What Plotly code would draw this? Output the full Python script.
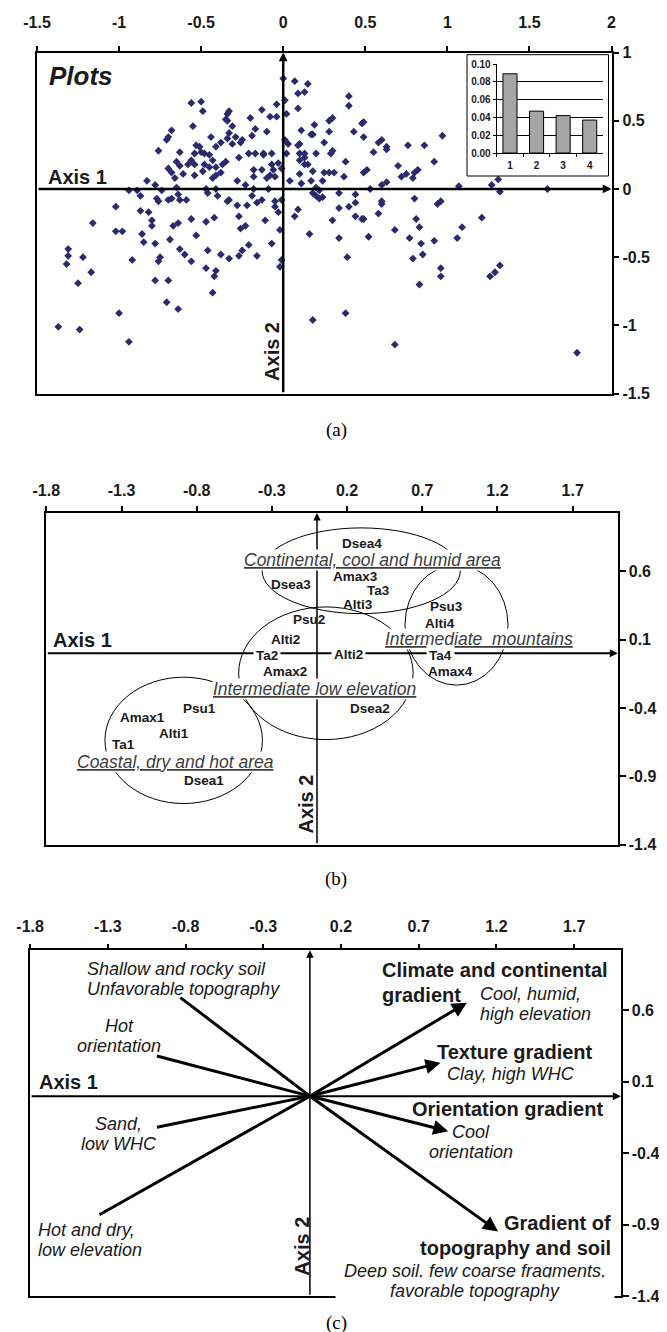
import plotly.graph_objects as go

W, H = 667, 1332
SANS = "Liberation Sans, Arial, Helvetica, sans-serif"
SERIF = "Liberation Serif, Times New Roman, serif"
INK = "#1a1a1a"

# ---- (a) plot scores on axes 1 and 2 ----
plot_x = [
    0.00, 0.07, 0.15, 0.09, 0.13, 0.01, -0.56, -0.50, -0.49, 0.40,
    0.40, -0.04, -0.13, -0.33, -0.34, 0.02, 0.09, -0.08, -0.04, -0.20,
    -0.35, -0.34, 0.30, 0.28, 0.49, 0.48, -0.55, -0.31, 0.19, 0.11,
    0.18, 0.28, 0.43, -0.17, -0.10, -0.68, -0.70, -0.71, -0.44, -0.33,
    -0.34, -0.29, -0.26, -0.25, -0.19, -0.31, -0.38, -0.76, 0.97, 0.49,
    0.60, 0.58, 0.25, 0.01, 0.03, 0.10, 0.17, -0.63, -0.53, -0.51,
    -0.50, -0.48, -0.41, -0.54, -0.45, -0.43, -0.48, -0.56, -0.21, -0.17,
    -0.12, -0.12, -0.27, -0.07, 0.02, 0.09, 0.10, 0.13, 0.20, 0.29,
    0.30, 0.38, 0.55, 0.63, 0.63, 0.76, 0.86, -0.65, -0.63, -0.58,
    -0.54, -0.45, -0.41, -0.37, -0.35, -0.49, -0.18, -0.13, -0.07, -0.03,
    -0.06, -0.01, 0.10, 0.13, 0.15, 0.18, 0.13, 0.92, 0.70, 0.75,
    0.80, 0.82, 0.72, 0.79, -0.70, -0.68, -0.61, -0.54, -0.66, -0.43,
    -0.41, -0.38, -0.08, -0.18, -0.10, -0.05, 0.10, 0.17, 0.25, 0.28,
    0.31, 0.51, 0.49, -0.83, -0.78, -0.65, -0.74, -0.28, -0.23, 0.04,
    0.11, 0.24, 0.37, 0.60, 0.63, 1.07, 1.27, 1.31, 1.32, -0.94,
    -0.89, -0.87, -0.47, -0.41, -0.18, -0.09, 0.20, 0.22, 0.18, 0.53,
    1.61, -1.02, -0.77, -0.76, -0.70, -0.68, -0.63, -0.59, -0.46, -0.33,
    -0.19, -0.13, -0.05, 0.20, 0.24, 0.44, 0.60, 0.80, 0.94, 0.96,
    -0.64, -0.40, -0.34, -0.28, -0.22, -0.16, -0.05, -0.03, -0.01, 0.22,
    0.34, -0.87, -0.82, -0.80, -0.80, -1.16, -1.02, -0.98, -0.86, -0.85,
    -0.78, -0.69, -0.67, -0.64, -0.56, -0.47, -0.42, -0.53, -0.27, -0.26,
    -0.23, -0.21, -0.11, -0.07, -0.02, 0.09, 0.07, 0.16, 0.30, 0.34,
    0.40, 0.44, 0.44, 0.48, 0.49, 0.58, 0.60, 0.68, 0.52, 0.34,
    0.77, 0.81, 0.83, 0.84, 0.92, 1.06, 1.09, 1.21, -1.31, -1.31,
    -1.32, -1.22, -1.17, -1.25, -0.92, -0.75, -0.76, -0.63, -0.60, -0.56,
    -0.46, -0.38, -0.33, -0.27, -0.25, -0.16, -0.78, -0.70, -0.47, -0.42,
    -0.41, -0.02, -0.01, 0.39, 0.79, 0.85, 0.96, 0.96, 1.26, 1.29,
    1.32, 0.83, -1.37, -1.24, -1.00, -0.94, -0.71, -0.64, -0.43, 0.18,
    0.38, 0.68, 1.79,
]
plot_y = [
    0.81, 0.79, 0.77, 0.70, 0.71, 0.65, 0.63, 0.64, 0.57, 0.68,
    0.61, 0.62, 0.58, 0.57, 0.55, 0.55, 0.59, 0.53, 0.53, 0.52,
    0.51, 0.50, 0.52, 0.50, 0.49, 0.48, 0.46, 0.46, 0.47, 0.43,
    0.40, 0.42, 0.42, 0.44, 0.42, 0.43, 0.38, 0.36, 0.38, 0.41,
    0.37, 0.38, 0.34, 0.36, 0.39, 0.33, 0.34, 0.28, 0.39, 0.38,
    0.36, 0.34, 0.34, 0.36, 0.33, 0.33, 0.40, 0.27, 0.32, 0.31,
    0.27, 0.26, 0.31, 0.26, 0.25, 0.21, 0.18, 0.21, 0.26, 0.26,
    0.26, 0.25, 0.23, 0.26, 0.26, 0.32, 0.26, 0.26, 0.26, 0.26,
    0.28, 0.20, 0.27, 0.29, 0.31, 0.32, 0.32, 0.20, 0.17, 0.18,
    0.18, 0.16, 0.16, 0.18, 0.20, 0.13, 0.14, 0.14, 0.18, 0.19,
    0.14, 0.15, 0.21, 0.23, 0.18, 0.13, 0.18, 0.20, 0.17, 0.11,
    0.12, 0.14, 0.09, 0.08, 0.15, 0.12, 0.11, 0.10, 0.08, 0.08,
    0.10, 0.12, 0.10, 0.09, 0.08, 0.09, 0.11, 0.06, 0.12, 0.12,
    0.12, 0.14, 0.12, 0.06, 0.03, 0.01, -0.01, 0.06, 0.03, 0.06,
    0.04, 0.06, 0.09, 0.03, 0.05, 0.02, 0.03, 0.07, -0.02, -0.01,
    -0.01, -0.05, 0.00, 0.00, 0.00, 0.00, 0.01, -0.01, -0.03, 0.00,
    0.00, -0.13, -0.07, -0.09, -0.08, -0.07, -0.08, -0.08, -0.03, -0.08,
    -0.05, -0.08, -0.09, -0.05, -0.06, -0.04, -0.09, -0.07, -0.11, -0.09,
    -0.04, -0.05, -0.09, -0.12, -0.12, -0.10, -0.13, -0.17, -0.08, -0.07,
    -0.03, -0.16, -0.17, -0.23, -0.27, -0.25, -0.31, -0.31, -0.33, -0.39,
    -0.40, -0.37, -0.27, -0.25, -0.22, -0.24, -0.21, -0.34, -0.20, -0.29,
    -0.27, -0.41, -0.23, -0.40, -0.30, -0.15, -0.20, -0.33, -0.23, -0.14,
    -0.13, -0.10, -0.20, -0.22, -0.22, -0.18, -0.11, -0.30, -0.35, -0.36,
    -0.36, -0.22, -0.28, -0.40, -0.38, -0.36, -0.28, -0.21, -0.44, -0.49,
    -0.55, -0.50, -0.61, -0.69, -0.52, -0.50, -0.53, -0.44, -0.48, -0.53,
    -0.45, -0.48, -0.51, -0.49, -0.45, -0.49, -0.67, -0.67, -0.58, -0.64,
    -0.60, -0.57, -0.52, -0.50, -0.51, -0.48, -0.58, -0.64, -0.64, -0.61,
    -0.56, -0.70, -1.01, -1.03, -0.91, -1.12, -0.83, -0.88, -0.76, -0.96,
    -0.91, -1.14, -1.20,
]

# inset: eigenvalues of the first four axes
eig_axis = ["1", "2", "3", "4"]
eig_val = [0.089, 0.047, 0.042, 0.037]
eig_ticks = [0, 0.02, 0.04, 0.06, 0.08, 0.10]

a_xticks = [-1.5, -1, -0.5, 0, 0.5, 1, 1.5, 2]
a_yticks = [-1.5, -1, -0.5, 0, 0.5, 1]
bc_xticks = [-1.8, -1.3, -0.8, -0.3, 0.2, 0.7, 1.2, 1.7]
bc_yticks = [-1.4, -0.9, -0.4, 0.1, 0.6]

# ---- (b) modalities of the variables ----
mod_name = ["Dsea4", "Amax3", "Dsea3", "Ta3", "Alti3", "Psu3", "Psu2", "Alti4",
            "Alti2", "Ta2", "Alti2", "Ta4", "Amax2", "Amax4", "Psu1", "Dsea2",
            "Amax1", "Alti1", "Ta1", "Dsea1"]
mod_x = [0.30, 0.255, -0.17, 0.41, 0.27, 0.86, -0.05, 0.82,
         -0.21, -0.33, 0.21, 0.82, -0.21, 0.89, -0.78, 0.35,
         -1.16, -0.95, -1.29, -0.75]
mod_y = [0.805, 0.558, 0.50, 0.46, 0.36, 0.34, 0.246, 0.22,
         0.10, -0.014, -0.01, -0.018, -0.13, -0.13, -0.407, -0.407,
         -0.47, -0.587, -0.667, -0.928]

zone_name = ["Continental, cool and humid area", "Intermediate  mountains",
             "Intermediate low elevation", "Coastal, dry and hot area"]
zone_x = [0.37, 1.08, -0.02, -0.94]
zone_y = [0.683, 0.105, -0.258, -0.796]

# ellipses around the groups
ell_x0 = [-0.365, 0.585, -0.521, -1.41]
ell_x1 = [0.953, 1.27, 0.639, -0.363]
ell_y0 = [0.29, -0.233, -0.631, -1.099]
ell_y1 = [0.917, 0.645, 0.339, -0.175]

# ---- (c) gradients ----
arrow_x = [1.01, 0.84, 0.89, 1.21]
arrow_y = [0.654, 0.234, -0.245, -0.946]
line_x = [-0.833, -0.984, -0.984, -1.354]
line_y = [0.689, 0.281, -0.217, -0.83]

c_text = ["Shallow and rocky soil<br>Unfavorable topography", "Hot<br>orientation",
          "Sand,<br>low WHC", "Hot and dry,<br>low elevation",
          "Climate and continental<br>gradient", "Cool, humid,<br>high elevation",
          "Texture gradient", "Clay, high WHC", "Orientation gradient",
          "Cool<br>orientation", "Gradient of<br>topography and soil",
          "Deep soil, few coarse fragments,<br>favorable topography"]
c_x = [-1.45, -1.225, -1.23, -1.764, 0.449, 1.084, 1.32, 1.292, 1.273, 1.038, 1.947, 1.065]
c_y = [0.817, 0.42, -0.262, -1.003, 0.794, 0.647, 0.309, 0.157, -0.093, -0.323, -0.978, -1.293]
c_anchor = ["left", "center", "center", "left", "left", "left", "center", "center",
            "center", "center", "right", "center"]
c_bold = [False, False, False, False, True, False, True, False, True, False, True, False]

A_X, A_Y = [-1.5, 2.0], [-1.5, 1.0]
B_X, B_Y = [-1.8, 2.0], [-1.4, 1.026]
C_X, C_Y = [-1.8, 2.0], [-1.4, 1.02]


def xdom(left, right):
    return [left / W, right / W]


def ydom(top, bottom):
    return [1 - bottom / H, 1 - top / H]


TICKFONT = dict(family=SANS, size=16, color=INK, weight="bold")


def frame(dx, dy, xr, yr, xt, yt, xid, yid, stand):
    common = dict(showline=True, mirror=True, linecolor="black", linewidth=1.5,
                  ticks="outside", tickwidth=1.5, tickcolor="black",
                  tickfont=TICKFONT, showgrid=False, zeroline=False)
    xa = dict(domain=dx, range=xr, anchor=yid, side="top", ticklen=5,
              tickvals=xt, ticktext=[f"{v:g}" for v in xt],
              ticklabelstandoff=stand, **common)
    ya = dict(domain=dy, range=yr, anchor=xid, side="right", ticklen=6,
              tickvals=yt, ticktext=[f"{v:g}" for v in yt], **common)
    return xa, ya


def arrow(sub, x, y, x0, y0, width, size, head=2):
    xr, yr = "x" + sub, "y" + sub
    return dict(xref=xr, yref=yr, axref=xr, ayref=yr, x=x, y=y, ax=x0, ay=y0,
                text="", showarrow=True, arrowhead=head, arrowsize=size,
                arrowwidth=width, arrowcolor="black", standoff=0)


def label(sub, x, y, text, size, bold=False, italic=False, anchor="center",
          angle=0, color=INK, bg=None, pad=2):
    d = dict(xref="x" + sub, yref="y" + sub, x=x, y=y, text=text, showarrow=False,
             xanchor=anchor, yanchor="middle", align=anchor, textangle=angle,
             font=dict(family=SANS, size=size, color=color,
                       weight="bold" if bold else "normal",
                       style="italic" if italic else "normal"))
    if bg:
        d.update(bgcolor=bg, borderpad=pad)
    return d


fig = go.Figure()

fig.add_trace(go.Scatter(x=plot_x, y=plot_y, mode="markers", xaxis="x", yaxis="y",
                         marker=dict(symbol="diamond", size=6, color="#2b2a6e"),
                         hoverinfo="skip"))

fig.add_trace(go.Bar(x=eig_axis, y=eig_val, xaxis="x4", yaxis="y4", width=0.53,
                     marker=dict(color="#a5a5a5", line=dict(color="black", width=1))))

seg_x, seg_y = [], []
for lx, ly in zip(line_x, line_y):
    seg_x += [0, lx, None]
    seg_y += [0, ly, None]
fig.add_trace(go.Scatter(x=seg_x, y=seg_y, mode="lines", xaxis="x3", yaxis="y3",
                         line=dict(color="black", width=3), hoverinfo="skip"))

xa1, ya1 = frame(xdom(29, 603.5), ydom(44.5, 385.7), A_X, A_Y, a_xticks, a_yticks, "x", "y", 11)
xa2, ya2 = frame(xdom(38.3, 609.8), ydom(505, 836.7), B_X, B_Y, bc_xticks, bc_yticks, "x2", "y2", 4)
xa3, ya3 = frame(xdom(22.1, 612.8), ydom(942.3, 1288.3), C_X, C_Y, bc_xticks, bc_yticks, "x3", "y3", 5)

small = dict(family=SANS, size=10, color=INK, weight="bold")
xa4 = dict(domain=xdom(488.7, 595), anchor="y4", type="category", range=[-0.5, 3.5],
           tickson="boundaries", ticks="outside", ticklen=3, tickcolor="black",
           showline=True, linecolor="black", linewidth=1, tickfont=small,
           ticklabelstandoff=3, showgrid=False, zeroline=False)
ya4 = dict(domain=ydom(56, 145), anchor="x4", range=[0, 0.1], tickvals=eig_ticks,
           ticktext=[f"{v:.2f}" for v in eig_ticks], ticks="outside", ticklen=3,
           tickcolor="black", showline=True, linecolor="black", linewidth=1,
           showgrid=True, gridcolor="black", gridwidth=1, tickfont=small, zeroline=False)

ann = []
# panel (a)
ann.append(arrow("", A_X[1], 0, A_X[0], 0, 2.5, 0.7))
ann.append(arrow("", 0, A_Y[1], 0, A_Y[0], 2.5, 0.7))
ann.append(label("", -1.441, 0.83, "Plots", 26, bold=True, italic=True, anchor="left"))
ann.append(label("", -1.445, 0.088, "Axis 1", 20, bold=True, anchor="left"))
ann.append(label("", -0.065, -1.19, "Axis 2", 20, bold=True, angle=-90))

# panel (b)
ann.append(arrow("2", B_X[1], 0, B_X[0], 0, 2, 0.8))
ann.append(arrow("2", 0, B_Y[1], 0, B_Y[0], 1.5, 1.0))
for n, x, y in zip(zone_name, zone_x, zone_y):
    ann.append(label("2", x, y, f"<u>{n}</u>", 17.5, italic=True, color="#3d3d3d",
                     bg="white", pad=0))
for n, x, y in zip(mod_name, mod_x, mod_y):
    on_axis = abs(y) < 0.03
    ann.append(label("2", x, y, n, 13.5, bold=True, bg="white" if on_axis else None, pad=2))
ann.append(label("2", -1.56, 0.10, "Axis 1", 20, bold=True))
ann.append(label("2", -0.074, -1.10, "Axis 2", 20, bold=True, angle=-90))

# panel (c)
ann.append(arrow("3", C_X[1], 0, C_X[0], 0, 2, 0.8))
ann.append(arrow("3", 0, C_Y[1], 0, C_Y[0], 1.5, 1.0))
for x, y in zip(arrow_x, arrow_y):
    ann.append(arrow("3", x, y, 0, 0, 3, 1.0))
for t, x, y, a, b in zip(c_text, c_x, c_y, c_anchor, c_bold):
    lines = t.split("<br>")
    gap = 25 if b else 20
    for i, ln in enumerate(lines):
        d = label("3", x, y, ln, 20 if b else 18, bold=b, italic=not b, anchor=a)
        d["yshift"] = ((len(lines) - 1) / 2 - i) * gap
        if t.startswith("Deep") and i == len(lines) - 1:
            d.update(bgcolor="white", borderpad=3, width=272)
        ann.append(d)
ann.append(label("3", -1.553, 0.10, "Axis 1", 20, bold=True))
ann.append(label("3", -0.053, -1.048, "Axis 2", 20, bold=True, angle=-90))

# captions
for cap, yc in [("(a)", 421.7), ("(b)", 871), ("(c)", 1315)]:
    ann.append(dict(xref="paper", yref="paper", x=328 / W, y=1 - yc / H, text=cap,
                    showarrow=False, xanchor="center", yanchor="middle",
                    font=dict(family=SERIF, size=19, color="black")))

shapes = []
for x0, x1, y0, y1 in zip(ell_x0, ell_x1, ell_y0, ell_y1):
    shapes.append(dict(type="circle", xref="x2", yref="y2", x0=x0, x1=x1, y0=y0, y1=y1,
                       line=dict(color="black", width=1), layer="below"))
# inset frame
shapes.append(dict(type="rect", xref="paper", yref="paper", x0=459 / W, x1=600.5 / W,
                   y0=1 - 168 / H, y1=1 - 46.7 / H, line=dict(color="black", width=1),
                   layer="above"))

fig.update_layout(
    width=W, height=H, autosize=False, template="none",
    margin=dict(l=0, r=0, t=0, b=0), showlegend=False,
    paper_bgcolor="white", plot_bgcolor="rgba(0,0,0,0)",
    xaxis=xa1, yaxis=ya1, xaxis2=xa2, yaxis2=ya2, xaxis3=xa3, yaxis3=ya3,
    xaxis4=xa4, yaxis4=ya4, annotations=ann, shapes=shapes,
)

fig.write_html("out.html")
